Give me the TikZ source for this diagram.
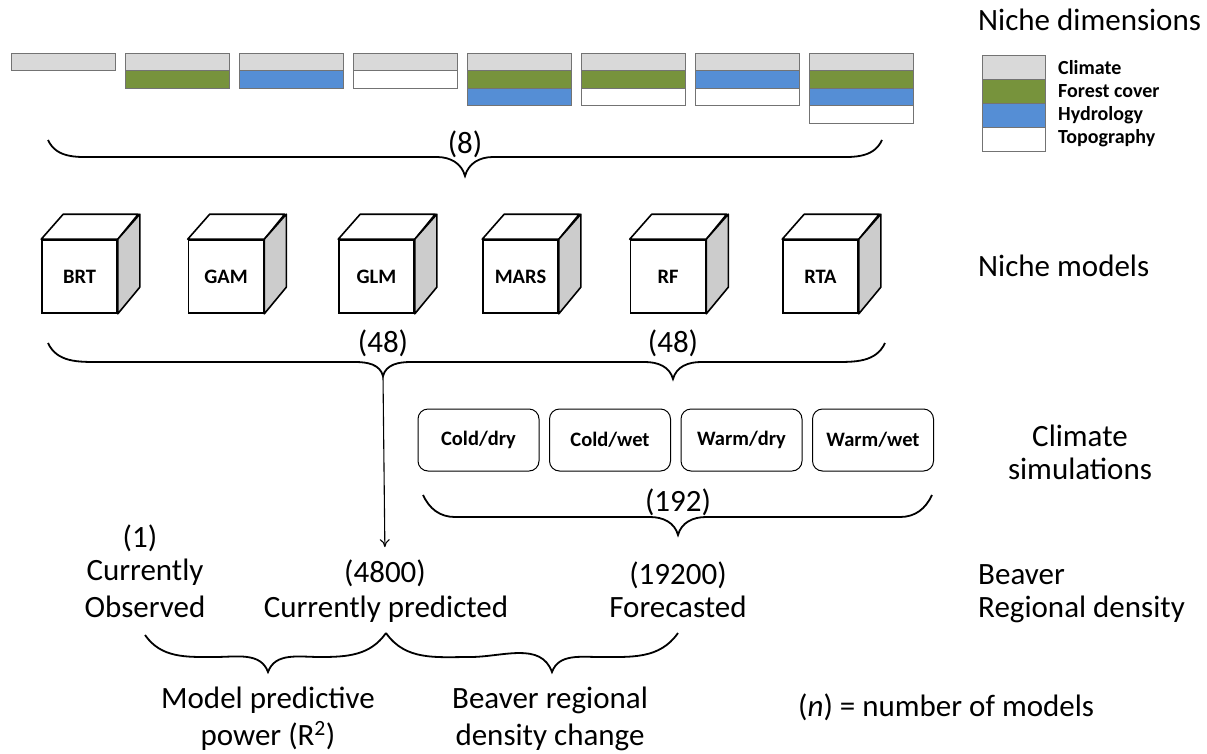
\documentclass[tikz,border=0pt]{standalone}
\usepackage{fontspec}
\setmainfont{Carlito}
\usetikzlibrary{positioning,arrows.meta}

\definecolor{climgrey}{HTML}{D9D9D9}
\definecolor{forestcol}{HTML}{77933C}
\definecolor{hydroblue}{HTML}{558ED5}

\tikzset{
  % layers of the dimension bars
  layer/.style={draw=black!55,line width=0.8pt},
  clim/.style={layer,fill=climgrey},
  forest/.style={layer,fill=forestcol},
  hydro/.style={layer,fill=hydroblue},
  topo/.style={layer,fill=white},
  % model cubes: front face is the node, top and side drawn from its anchors
  cube/.style={draw,line width=1.6pt,fill=white,minimum width=75pt,minimum height=73pt,
    inner sep=0pt,font=\fontsize{20.5}{24}\selectfont\bfseries},
  cubetop/.style={draw,line width=1.6pt,fill=white,line join=round},
  cubeside/.style={draw,line width=1.6pt,fill=black!20,line join=round},
  % climate scenarios
  scenario/.style={draw,rounded corners=10pt,line width=1pt,minimum width=121pt,
    minimum height=62pt,inner sep=0pt,font=\fontsize{20.5}{24}\selectfont\bfseries},
  curly/.style={line width=1.8pt},
  flow/.style={-{To[length=8pt,width=10pt]},line width=1.1pt},
  big/.style={font=\fontsize{31}{37}\selectfont,inner sep=0pt,anchor=base},
  keytext/.style={font=\fontsize{20}{24}\selectfont\bfseries,inner sep=0pt,anchor=base west},
}

\begin{document}
\begin{tikzpicture}[x=1pt,y=1pt]
  \useasboundingbox (0,0) rectangle (1207,-753);

  % niche dimension combinations
  \foreach \i/\layers in {0/{clim},1/{clim,forest},2/{clim,hydro},3/{clim,topo},
      4/{clim,forest,hydro},5/{clim,forest,topo},6/{clim,hydro,topo},7/{clim,forest,hydro,topo}}
    \foreach \s [count=\k from 0] in \layers
      \draw[\s] (11+114*\i,-53-17.6*\k) rectangle ++(104,-17.6);

  % legend
  \node[big,anchor=base west] (dimhead) at (978,-30) {Niche dimensions};
  \foreach \s/\lbl [count=\k from 0] in {clim/Climate,forest/Forest cover,hydro/Hydrology,topo/Topography} {
    \draw[\s] (982,-55-24.2*\k) rectangle ++(63,-24.2);
    \node[keytext] (key\k) at (1058,-74-23*\k) {\lbl};
  }

  \coordinate (b8l) at (48,-140);
  \coordinate (b8t) at (465,-176);
  \coordinate (b8r) at (882,-140);
  \draw[curly] (b8l) to[out=-65,in=180] (100,-157) -- (437,-157) to[out=0,in=105] (b8t)
    to[out=75,in=180] (493,-157) -- (830,-157) to[out=0,in=-115] (b8r);
  \node[big] (n8) at (465,-153) {(8)};

  % niche models
  \foreach \name/\xc in {BRT/79.5,GAM/226,GLM/376.5,MARS/520.5,RF/668,RTA/820.5} {
    \node[cube] (cube-\name) at (\xc,-276.5) {\name};
    \draw[cubetop] (cube-\name.north west) -- ++(22,25) -- ++(75,0) -- (cube-\name.north east) -- cycle;
    \draw[cubeside] (cube-\name.north east) -- ++(22,25) -- ++(0,-73) -- (cube-\name.south east) -- cycle;
  }
  \node[big,anchor=base west] (modhead) at (978,-276) {Niche models};

  \coordinate (b48l) at (48,-343);
  \coordinate (t48a) at (383,-376);
  \coordinate (t48b) at (673,-379);
  \coordinate (b48r) at (885,-343);
  \draw[curly] (b48l) to[out=-65,in=180] (100,-362) -- (355,-362) to[out=0,in=105] (t48a)
    to[out=75,in=180] (411,-362) -- (645,-362) to[out=0,in=105] (t48b)
    to[out=75,in=180] (701,-362) -- (833,-362) to[out=0,in=-115] (b48r);
  \node[big] (n48a) at (383,-352) {(48)};
  \node[big] (n48b) at (673,-352) {(48)};

  % climate simulations
  \foreach \lbl [count=\i from 0] in {{Cold/dry},{Cold/wet},{Warm/dry},{Warm/wet}}
    \node[scenario] (sim\i) at (478.5+131.5*\i,-440) {\lbl};
  \node[big] (simhead1) at (1080,-446) {Climate};
  \node[big] (simhead2) at (1080,-479) {simulations};

  \coordinate (b192l) at (423,-495);
  \coordinate (b192t) at (678,-535);
  \coordinate (b192r) at (932,-495);
  \draw[curly] (b192l) to[out=-65,in=180] (455,-517) -- (650,-517) to[out=0,in=105] (b192t)
    to[out=75,in=180] (706,-517) -- (900,-517) to[out=0,in=-115] (b192r);
  \node[big] (n192) at (678,-511) {(192)};

  % regional density
  \node[big] (n1) at (140,-547) {(1)};
  \node[big] (obs1) at (145,-580) {Currently};
  \node[big] (obs2) at (145,-617) {Observed};
  \node[big] (n4800) at (385,-582) {(4800)};
  \node[big] (pred) at (386,-617) {Currently predicted};
  \node[big] (n19200) at (678,-584) {(19200)};
  \node[big] (fcst) at (678,-617) {Forecasted};
  \node[big,anchor=base west] (bvr1) at (978,-584) {Beaver};
  \node[big,anchor=base west] (bvr2) at (978,-617) {Regional density};

  \draw[flow,shorten >=12pt] (t48a) -- (n4800.north);

  \draw[curly] (145,-635) to[out=-55,in=180] (215,-657) to[out=0,in=110] (268,-672)
    to[out=70,in=180] (320,-657) to[out=0,in=-125] (386,-633);
  \draw[curly] (386,-633) to[out=-55,in=180] (470,-657) to[out=0,in=110] (552,-672)
    to[out=70,in=180] (600,-657) to[out=0,in=-125] (678,-633);

  \node[big] (r2a) at (268,-708) {Model predictive};
  \node[big] (r2b) at (268,-745) {power (R\textsuperscript{2})};
  \node[big] (chg1) at (550,-708) {Beaver regional};
  \node[big] (chg2) at (550,-745) {density change};
  \node[big,anchor=base west] (note) at (798,-716) {(\textit{n}) = number of models};
\end{tikzpicture}
\end{document}
